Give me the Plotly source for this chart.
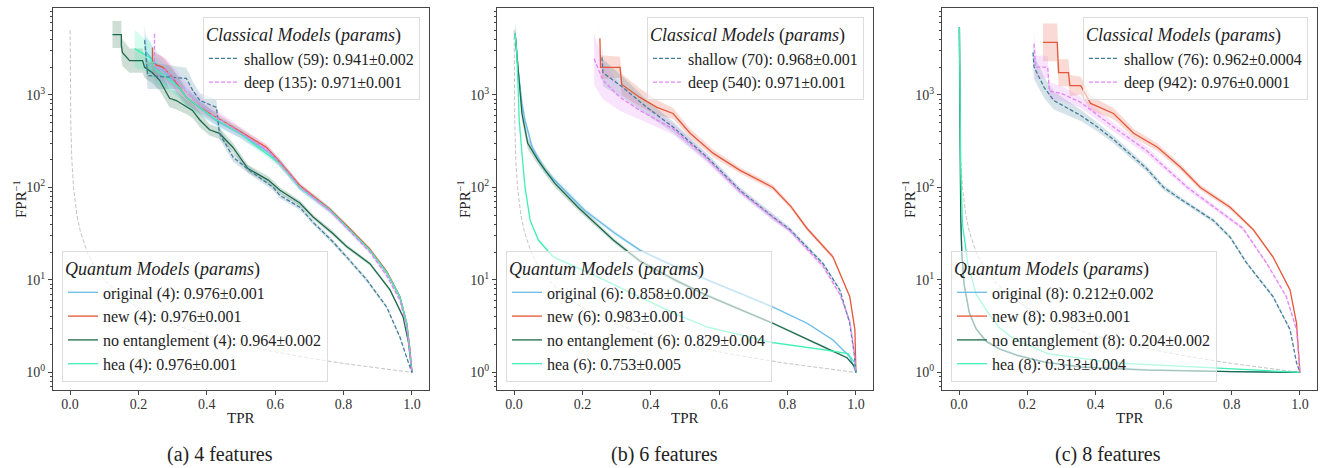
import plotly.graph_objects as go

FONT = "Liberation Serif"

# ---------------- random-classifier reference (all panels) ----------------
rand_tpr = [0.0002, 0.0005, 0.001, 0.002, 0.005, 0.01, 0.02, 0.03, 0.05, 0.07, 0.1, 0.15, 0.2, 0.3, 0.4, 0.5, 0.6, 0.7, 0.8, 0.9, 1.0]
rand_fpr = [5000, 2000, 1000, 500, 200, 100, 50, 33.3, 20, 14.3, 10, 6.67, 5, 3.33, 2.5, 2.0, 1.67, 1.43, 1.25, 1.11, 1.0]

# ---------------- panel (a): 4 features ----------------
a_original_tpr = [0.22, 0.25, 0.30, 0.34, 0.38, 0.43, 0.50, 0.58, 0.613, 0.672, 0.76, 0.818, 0.877, 0.927, 0.965, 0.985, 0.994, 1.0]
a_original_fpr = [3000, 2200, 1450, 950, 720, 520, 380, 240, 185, 100, 57, 35, 21, 11.9, 6.5, 3.3, 1.8, 1.0]
a_original_band = [0.5, 0.4, 0.3, 0.25, 0.2, 0.15, 0.12, 0.1, 0.1, 0.08, 0.07, 0.06, 0.05, 0.05, 0.04, 0.03, 0.02, 0.0]

a_new_tpr = [0.241, 0.241, 0.272, 0.30, 0.34, 0.379, 0.476, 0.574, 0.613, 0.672, 0.76, 0.818, 0.877, 0.927, 0.965, 0.985, 0.994, 1.0]
a_new_fpr = [3250, 2190, 1990, 1550, 940, 735, 450, 272, 190, 105, 58, 36, 21.5, 12.2, 6.6, 3.4, 1.8, 1.0]
a_new_band = [0.4, 0.35, 0.3, 0.25, 0.2, 0.15, 0.1, 0.08, 0.08, 0.07, 0.06, 0.05, 0.05, 0.04, 0.04, 0.03, 0.02, 0.0]

a_noent_tpr = [0.124, 0.150, 0.150, 0.153, 0.174, 0.212, 0.218, 0.241, 0.262, 0.291, 0.311, 0.341, 0.358, 0.379, 0.408, 0.437, 0.476, 0.52, 0.58, 0.614, 0.672, 0.711, 0.768, 0.809, 0.877, 0.936, 0.974, 0.99, 1.0]
a_noent_fpr = [4500, 4500, 3430, 2880, 2350, 2350, 1990, 1740, 1440, 920, 870, 740, 680, 540, 420, 385, 272, 160, 120, 93, 68, 48, 32, 23, 15, 7.8, 4.0, 2.1, 1.0]
a_noent_band = [0.4, 0.4, 0.4, 0.4, 0.35, 0.35, 0.3, 0.3, 0.3, 0.25, 0.25, 0.2, 0.2, 0.2, 0.15, 0.15, 0.12, 0.1, 0.1, 0.08, 0.07, 0.06, 0.06, 0.05, 0.05, 0.04, 0.03, 0.02, 0.0]

a_hea_tpr = [0.189, 0.212, 0.232, 0.252, 0.282, 0.32, 0.34, 0.379, 0.428, 0.496, 0.575, 0.613, 0.672, 0.76, 0.818, 0.877, 0.927, 0.965, 0.985, 0.994, 1.0]
a_hea_fpr = [3170, 2800, 2550, 1850, 1550, 1200, 940, 735, 540, 385, 235, 182, 100, 57, 35, 21, 11.9, 6.6, 3.4, 1.76, 1.0]
a_hea_band = [0.6, 0.5, 0.5, 0.4, 0.35, 0.3, 0.25, 0.2, 0.15, 0.12, 0.1, 0.1, 0.08, 0.07, 0.06, 0.05, 0.05, 0.04, 0.03, 0.02, 0.0]

a_shallow_tpr = [0.218, 0.227, 0.34, 0.36, 0.38, 0.428, 0.437, 0.477, 0.525, 0.594, 0.614, 0.672, 0.711, 0.768, 0.809, 0.868, 0.926, 0.965, 0.99, 1.0]
a_shallow_fpr = [3900, 1620, 1510, 1100, 870, 735, 385, 212, 153, 100, 82, 61, 42, 26, 17.7, 10, 5.1, 2.4, 1.27, 1.0]
a_shallow_band = [0.5, 0.4, 0.3, 0.25, 0.2, 0.2, 0.15, 0.12, 0.1, 0.08, 0.08, 0.07, 0.06, 0.06, 0.05, 0.05, 0.04, 0.03, 0.02, 0.0]

a_deep_tpr = [0.247, 0.247, 0.28, 0.32, 0.36, 0.42, 0.50, 0.58, 0.613, 0.672, 0.76, 0.818, 0.877, 0.927, 0.965, 0.985, 0.994, 1.0]
a_deep_fpr = [4600, 2000, 1850, 1300, 900, 600, 390, 250, 185, 102, 56, 34, 20, 11, 6.0, 3.0, 1.7, 1.0]
a_deep_band = [0.5, 0.4, 0.35, 0.3, 0.25, 0.2, 0.15, 0.12, 0.1, 0.08, 0.07, 0.06, 0.05, 0.05, 0.04, 0.03, 0.02, 0.0]

# ---------------- panel (b): 6 features ----------------
b_original_tpr = [0.003, 0.012, 0.023, 0.032, 0.053, 0.09, 0.14, 0.208, 0.295, 0.368, 0.47, 0.564, 0.66, 0.757, 0.857, 0.933, 0.982, 1.0]
b_original_fpr = [4600, 1830, 810, 530, 270, 153, 100, 56, 32, 21, 14, 10, 7.2, 5.1, 3.4, 2.24, 1.48, 1.0]
b_original_band = [0.3, 0.2, 0.15, 0.12, 0.1, 0.08, 0.07, 0.06, 0.05, 0.04, 0.04, 0.03, 0.03, 0.03, 0.02, 0.02, 0.02, 0.0]

b_new_tpr = [0.251, 0.253, 0.31, 0.315, 0.368, 0.418, 0.465, 0.515, 0.582, 0.661, 0.757, 0.81, 0.857, 0.933, 0.982, 0.997, 1.0]
b_new_fpr = [4070, 1990, 1990, 1300, 940, 735, 630, 385, 235, 153, 100, 62, 36, 17.7, 6.6, 2.9, 1.0]
b_new_band = [0.4, 0.35, 0.3, 0.3, 0.25, 0.2, 0.15, 0.12, 0.1, 0.08, 0.07, 0.06, 0.06, 0.05, 0.04, 0.03, 0.0]

b_noent_tpr = [0.003, 0.011, 0.023, 0.04, 0.07, 0.12, 0.187, 0.29, 0.368, 0.47, 0.564, 0.66, 0.757, 0.904, 0.974, 0.997, 1.0]
b_noent_fpr = [4600, 2180, 630, 300, 196, 110, 61, 27, 16, 10, 6.8, 4.8, 3.4, 1.9, 1.44, 1.15, 1.0]
b_noent_band = [0.3, 0.25, 0.2, 0.15, 0.12, 0.1, 0.08, 0.06, 0.05, 0.05, 0.04, 0.04, 0.03, 0.03, 0.02, 0.02, 0.0]

b_hea_tpr = [0.003, 0.008, 0.011, 0.015, 0.023, 0.032, 0.047, 0.071, 0.11, 0.125, 0.222, 0.368, 0.465, 0.564, 0.757, 0.904, 0.977, 0.995, 1.0]
b_hea_fpr = [4600, 2800, 1440, 530, 235, 100, 44, 27, 18.5, 17, 11.8, 6.6, 4.4, 3.1, 2.1, 1.76, 1.6, 1.3, 1.0]
b_hea_band = [0.2, 0.15, 0.1, 0.08, 0.06, 0.05, 0.04, 0.03, 0.03, 0.03, 0.03, 0.02, 0.02, 0.02, 0.02, 0.02, 0.02, 0.01, 0.0]

b_shallow_tpr = [0.257, 0.26, 0.319, 0.388, 0.465, 0.564, 0.661, 0.757, 0.807, 0.904, 0.953, 0.982, 0.995, 1.0]
b_shallow_fpr = [2550, 1740, 1200, 735, 450, 213, 93, 48, 35, 15, 7.8, 3.4, 1.6, 1.0]
b_shallow_band = [0.5, 0.4, 0.3, 0.2, 0.15, 0.1, 0.08, 0.07, 0.06, 0.05, 0.04, 0.03, 0.02, 0.0]

b_deep_tpr = [0.234, 0.26, 0.31, 0.368, 0.465, 0.564, 0.661, 0.757, 0.807, 0.904, 0.953, 0.982, 0.995, 1.0]
b_deep_fpr = [2460, 1440, 940, 680, 430, 205, 90, 47, 34, 14, 7.0, 3.6, 1.7, 1.0]
b_deep_band = [0.9, 0.6, 0.4, 0.25, 0.15, 0.1, 0.08, 0.07, 0.06, 0.05, 0.04, 0.03, 0.02, 0.0]

# ---------------- panel (c): 8 features ----------------
c_original_tpr = [0.001, 0.002, 0.003, 0.005, 0.008, 0.015, 0.03, 0.05, 0.08, 0.12, 0.17, 0.25, 0.36, 0.55, 0.8, 1.0]
c_original_fpr = [5400, 800, 150, 50, 20, 9, 4.5, 3.0, 2.2, 1.8, 1.55, 1.3, 1.15, 1.07, 1.02, 1.0]
c_original_band = [0.1, 0.08, 0.06, 0.05, 0.04, 0.03, 0.03, 0.02, 0.02, 0.02, 0.01, 0.01, 0.01, 0.01, 0.0, 0.0]

c_new_tpr = [0.246, 0.288, 0.292, 0.321, 0.325, 0.357, 0.386, 0.453, 0.512, 0.582, 0.649, 0.708, 0.795, 0.863, 0.921, 0.971, 0.99, 1.0]
c_new_fpr = [3700, 3700, 1740, 1740, 1260, 1260, 810, 630, 385, 272, 166, 100, 61, 35, 17.7, 7.8, 3.4, 1.0]
c_new_band = [0.6, 0.6, 0.4, 0.4, 0.3, 0.25, 0.2, 0.15, 0.12, 0.1, 0.08, 0.07, 0.06, 0.05, 0.04, 0.03, 0.02, 0.0]

c_noent_tpr = [0.001, 0.002, 0.003, 0.005, 0.008, 0.015, 0.03, 0.05, 0.08, 0.12, 0.17, 0.25, 0.36, 0.55, 0.8, 1.0]
c_noent_fpr = [5400, 780, 145, 48, 19.5, 8.8, 4.4, 2.95, 2.15, 1.78, 1.53, 1.29, 1.14, 1.06, 1.02, 1.0]
c_noent_band = [0.1, 0.08, 0.06, 0.05, 0.04, 0.03, 0.03, 0.02, 0.02, 0.02, 0.01, 0.01, 0.01, 0.01, 0.0, 0.0]

c_hea_tpr = [0.001, 0.003, 0.005, 0.01, 0.026, 0.05, 0.085, 0.12, 0.161, 0.26, 0.453, 0.746, 0.9, 1.0]
c_hea_fpr = [5400, 700, 150, 40, 15, 7, 4.4, 3.0, 2.3, 1.6, 1.27, 1.12, 1.05, 1.0]
c_hea_band = [0.1, 0.08, 0.06, 0.05, 0.04, 0.03, 0.03, 0.02, 0.02, 0.02, 0.01, 0.01, 0.0, 0.0]

c_shallow_tpr = [0.217, 0.22, 0.25, 0.278, 0.357, 0.406, 0.453, 0.55, 0.60, 0.649, 0.746, 0.795, 0.845, 0.921, 0.971, 0.99, 1.0]
c_shallow_fpr = [2880, 2000, 1200, 870, 600, 450, 330, 160, 100, 75, 44, 29, 15, 6.6, 2.9, 1.27, 1.0]
c_shallow_band = [0.4, 0.35, 0.3, 0.25, 0.15, 0.12, 0.1, 0.08, 0.07, 0.06, 0.05, 0.05, 0.04, 0.04, 0.03, 0.02, 0.0]

c_deep_tpr = [0.22, 0.225, 0.26, 0.265, 0.30, 0.357, 0.453, 0.55, 0.60, 0.67, 0.746, 0.833, 0.903, 0.96, 0.99, 1.0]
c_deep_fpr = [3570, 2000, 2000, 1100, 1040, 830, 450, 250, 170, 100, 62, 36, 15, 6.6, 2.9, 1.0]
c_deep_band = [0.4, 0.35, 0.3, 0.25, 0.2, 0.15, 0.12, 0.1, 0.08, 0.07, 0.06, 0.05, 0.04, 0.03, 0.02, 0.0]

# ---------------- legend labels ----------------
a_labels = ["original (4): 0.976±0.001", "new (4): 0.976±0.001", "no entanglement (4): 0.964±0.002",
            "hea (4): 0.976±0.001", "shallow (59): 0.941±0.002", "deep (135): 0.971±0.001"]
b_labels = ["original (6): 0.858±0.002", "new (6): 0.983±0.001", "no entanglement (6): 0.829±0.004",
            "hea (6): 0.753±0.005", "shallow (70): 0.968±0.001", "deep (540): 0.971±0.001"]
c_labels = ["original (8): 0.212±0.002", "new (8): 0.983±0.001", "no entanglement (8): 0.204±0.002",
            "hea (8): 0.313±0.004", "shallow (76): 0.962±0.0004", "deep (942): 0.976±0.0001"]
captions = ["(a) 4 features", "(b) 6 features", "(c) 8 features"]

COLORS = {"original": (107, 187, 232), "new": (228, 87, 58), "noent": (29, 106, 74),
          "hea": (63, 240, 182), "shallow": (68, 127, 153), "deep": (227, 133, 247)}

W, H = 1322, 468
PANEL_X = [(53, 429), (497, 873), (942, 1317)]
PANEL_Y = (8, 390)
CAPTION_X = [220, 664, 1108]

fig = go.Figure()


def rgba(c, a):
    return f"rgba({c[0]},{c[1]},{c[2]},{a})"


panels = [
    [("original", a_original_tpr, a_original_fpr, a_original_band),
     ("new", a_new_tpr, a_new_fpr, a_new_band),
     ("noent", a_noent_tpr, a_noent_fpr, a_noent_band),
     ("hea", a_hea_tpr, a_hea_fpr, a_hea_band),
     ("shallow", a_shallow_tpr, a_shallow_fpr, a_shallow_band),
     ("deep", a_deep_tpr, a_deep_fpr, a_deep_band)],
    [("original", b_original_tpr, b_original_fpr, b_original_band),
     ("new", b_new_tpr, b_new_fpr, b_new_band),
     ("noent", b_noent_tpr, b_noent_fpr, b_noent_band),
     ("hea", b_hea_tpr, b_hea_fpr, b_hea_band),
     ("shallow", b_shallow_tpr, b_shallow_fpr, b_shallow_band),
     ("deep", b_deep_tpr, b_deep_fpr, b_deep_band)],
    [("original", c_original_tpr, c_original_fpr, c_original_band),
     ("new", c_new_tpr, c_new_fpr, c_new_band),
     ("noent", c_noent_tpr, c_noent_fpr, c_noent_band),
     ("hea", c_hea_tpr, c_hea_fpr, c_hea_band),
     ("shallow", c_shallow_tpr, c_shallow_fpr, c_shallow_band),
     ("deep", c_deep_tpr, c_deep_fpr, c_deep_band)],
]
labels = [a_labels, b_labels, c_labels]

for p, curves in enumerate(panels):
    xa = "x" if p == 0 else f"x{p + 1}"
    ya = "y" if p == 0 else f"y{p + 1}"
    leg_c = "legend" if p == 0 else f"legend{2 * p + 1}"
    leg_q = f"legend{2 * p + 2}"
    # random classifier
    fig.add_trace(go.Scatter(x=rand_tpr, y=rand_fpr, mode="lines", showlegend=False,
                             line=dict(color="#c4c4c4", width=1, dash="4px,2px"),
                             xaxis=xa, yaxis=ya, hoverinfo="skip"))
    # bands
    for key, tpr, fpr, band in curves:
        up = [v * (1 + s) for v, s in zip(fpr, band)]
        lo = [v / (1 + s) for v, s in zip(fpr, band)]
        fig.add_trace(go.Scatter(x=tpr + tpr[::-1], y=up + lo[::-1], fill="toself",
                                 fillcolor=rgba(COLORS[key], 0.22), line=dict(width=0),
                                 mode="lines", showlegend=False, hoverinfo="skip",
                                 xaxis=xa, yaxis=ya))
    # lines
    for i, (key, tpr, fpr, band) in enumerate(curves):
        dashed = key in ("shallow", "deep")
        fig.add_trace(go.Scatter(
            x=tpr, y=fpr, mode="lines", name=labels[p][i],
            line=dict(color=rgba(COLORS[key], 1), width=1.3,
                      dash="4px,2px" if dashed else "solid"),
            legend=leg_c if dashed else leg_q, xaxis=xa, yaxis=ya))

    x0, x1 = PANEL_X[p]
    dom_x = [x0 / W, x1 / W]
    dom_y = [1 - PANEL_Y[1] / H, 1 - PANEL_Y[0] / H]
    axkw = dict(showline=True, mirror=True, linecolor="#444", linewidth=1.3,
                ticks="outside", ticklen=4, tickcolor="#444", showgrid=False, zeroline=False,
                tickfont=dict(family=FONT, size=14, color="#333"))
    legkw = dict(bgcolor="rgba(255,255,255,0.6)", bordercolor="#dcdcdc", borderwidth=1,
                 font=dict(family=FONT, size=16, color="#222"), itemwidth=30)
    fig.update_layout(**{
        ("xaxis" if p == 0 else f"xaxis{p + 1}"): dict(
            domain=dom_x, range=[-0.05, 1.05], tickvals=[0, 0.2, 0.4, 0.6, 0.8, 1.0],
            ticktext=["0.0", "0.2", "0.4", "0.6", "0.8", "1.0"], anchor=ya,
            ticklabelstandoff=-3, **axkw),
        ("yaxis" if p == 0 else f"yaxis{p + 1}"): dict(
            domain=dom_y, type="log", range=[-0.19, 3.94],
            tickvals=[1, 10, 100, 1000],
            ticktext=["10<sup>0</sup>", "10<sup>1</sup>", "10<sup>2</sup>", "10<sup>3</sup>"],
            minor=dict(ticks="outside", ticklen=2, tickcolor="#444",
                       tickvals=[m * 10 ** e for e in range(-1, 4) for m in range(2, 10)]),
            anchor=xa, **axkw),
        leg_c: dict(x=(x1 - 9) / W, y=1 - 17 / H, xanchor="right", yanchor="top",
                    title=dict(text="<i>Classical Models</i> (<i>params</i>)",
                               font=dict(family=FONT, size=18, color="#222")), **legkw),
        leg_q: dict(x=(x0 + 9) / W, y=1 - 382 / H, xanchor="left", yanchor="bottom",
                    title=dict(text="<i>Quantum Models</i> (<i>params</i>)",
                               font=dict(family=FONT, size=18, color="#222")), **legkw),
    })
    # axis titles and caption
    fig.add_annotation(x=(x0 + x1) / 2 / W, y=1 - 418 / H, xref="paper", yref="paper",
                       xanchor="center", yanchor="middle",
                       text="TPR", showarrow=False, font=dict(family=FONT, size=15, color="#222"))
    fig.add_annotation(x=(x0 - 33) / W, y=1 - 199 / H, xref="paper", yref="paper",
                       xanchor="center", yanchor="middle",
                       text="FPR<sup>−1</sup>", textangle=-90, showarrow=False,
                       font=dict(family=FONT, size=15, color="#222"))
    fig.add_annotation(x=CAPTION_X[p] / W, y=1 - 454 / H, xref="paper", yref="paper",
                       xanchor="center", yanchor="middle",
                       text=captions[p], showarrow=False,
                       font=dict(family=FONT, size=20, color="#222"))

fig.update_layout(width=W, height=H, margin=dict(l=0, r=0, t=0, b=0),
                  plot_bgcolor="white", paper_bgcolor="white",
                  font=dict(family=FONT, color="#222"))

fig.write_html("out.html", config={"displayModeBar": False},
               post_script="document.body.style.margin='0px';")
